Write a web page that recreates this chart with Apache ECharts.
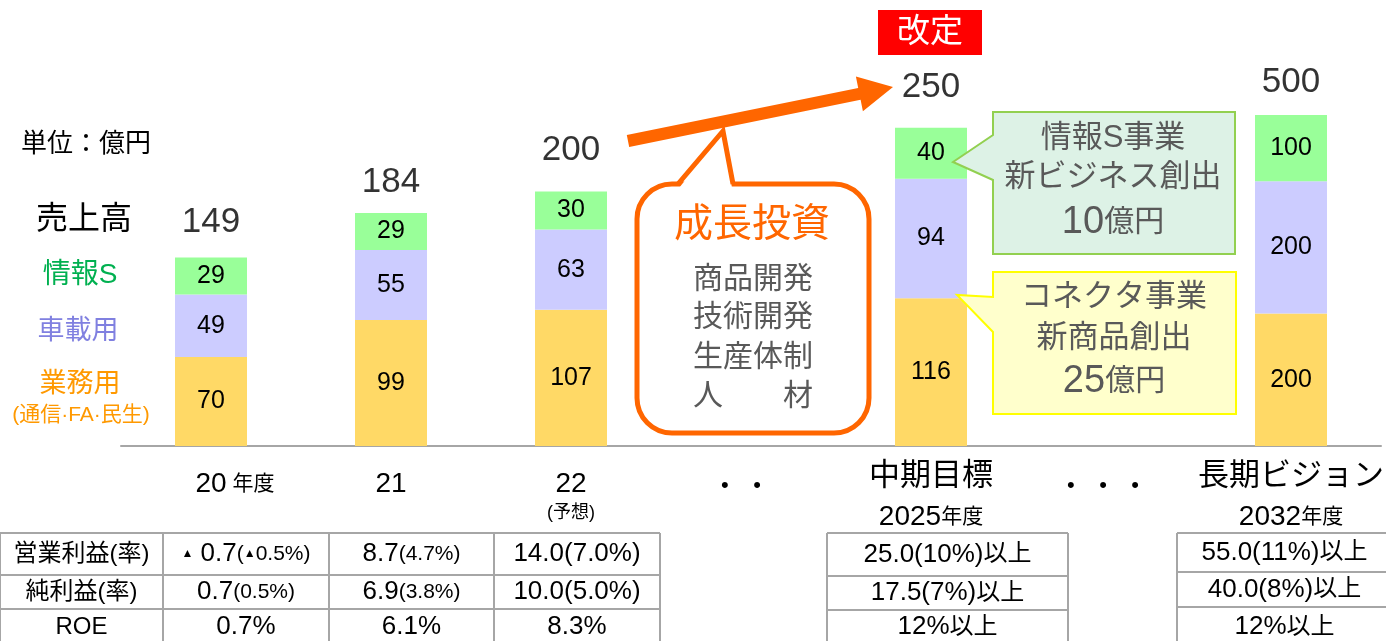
<!DOCTYPE html>
<html>
<head>
<meta charset="utf-8">
<script src="https://cdn.jsdelivr.net/npm/echarts@6.0.0/dist/echarts.min.js"></script>
<style>
html, body { margin: 0; padding: 0; background: #fff; }
#chart { width: 1386px; height: 641px; }
</style>
</head>
<body>
<div id="chart"></div>
<script>
// 売上高 (億円)
const categories = ['20', '21', '22', '・・', '中期目標', '・・・', '長期ビジョン'];
const categoryNotes = ['年度', '', '(予想)', '', '2025年度', '', '2032年度'];
const gyomuSales = [70, 99, 107, '-', 116, '-', '-'];
const shasaiSales = [49, 55, 63, '-', 94, '-', '-'];
const johoSales = [29, 29, 30, '-', 40, '-', '-'];
const totalSales = [149, 184, 200, '-', 250, '-', '-'];
// 長期ビジョン (2032年度) is drawn on its own scale in the original
const visionGyomu = ['-', '-', '-', '-', '-', '-', 200];
const visionShasai = ['-', '-', '-', '-', '-', '-', 200];
const visionJoho = ['-', '-', '-', '-', '-', '-', 100];
const visionTotal = ['-', '-', '-', '-', '-', '-', 500];

// 利益テーブル
const tableRowNames = ['営業利益(率)', '純利益(率)', 'ROE'];
const fy20Values = ['▲ 0.7(▲0.5%)', '0.7(0.5%)', '0.7%'];
const fy21Values = ['8.7(4.7%)', '6.9(3.8%)', '6.1%'];
const fy22Values = ['14.0(7.0%)', '10.0(5.0%)', '8.3%'];
const fy25Targets = ['25.0(10%)以上', '17.5(7%)以上', '12%以上'];
const fy32Targets = ['55.0(11%)以上', '40.0(8%)以上', '12%以上'];

const FONT = "'Liberation Sans', 'Noto Sans CJK JP', sans-serif";
const GREEN = '#99FF99', LAVENDER = '#CCCCFF', YELLOW = '#FFD966';
const ORANGE = '#FF6600', GRAY_TEXT = '#595959', LINE = '#A6A6A6';
// gap between bar top and total label, per category (px)
const totalLabelGap = [16, 11, 23, 0, 22, 0, 15];

const chart = echarts.init(document.getElementById('chart'));

function txt(text, x, y, size, color, align) {
  return {
    type: 'text', z: 100,
    style: {
      text: text, x: x, y: y, fill: color,
      font: size + 'px ' + FONT,
      align: align || 'center', textAlign: align || 'center',
      verticalAlign: 'middle', textVerticalAlign: 'middle'
    }
  };
}

function richTxt(text, x, y, rich) {
  return {
    type: 'text', z: 100,
    style: {
      text: text, x: x, y: y, rich: rich,
      align: 'center', textAlign: 'center',
      verticalAlign: 'middle', textVerticalAlign: 'middle'
    }
  };
}

function line(x1, y1, x2, y2) {
  return { type: 'line', z: 100, shape: { x1, y1, x2, y2 }, style: { stroke: LINE, lineWidth: 2 } };
}

// table cell -> rich text (small brackets for actual years)
function cellRich(str, smallParen) {
  const runs = [];
  let inParen = false;
  for (const ch of str) {
    if (ch === '(') inParen = true;
    let st = ch === '▲' ? 'tri' : (ch === '以' || ch === '上') ? 'jp' : (inParen && smallParen) ? 'sm' : 'n';
    if (runs.length && runs[runs.length - 1].st === st) runs[runs.length - 1].t += ch;
    else runs.push({ st: st, t: ch });
    if (ch === ')') inParen = false;
  }
  return runs.map(r => '{' + r.st + '|' + r.t + '}').join('');
}
const cellStyles = {
  n: { fontSize: 26, fontFamily: FONT, fill: '#000' },
  sm: { fontSize: 21, fontFamily: FONT, fill: '#000' },
  tri: { fontSize: 12, fontFamily: FONT, fill: '#000' },
  jp: { fontSize: 24, fontFamily: FONT, fill: '#000' },
  lb: { fontSize: 24, fontFamily: FONT, fill: '#000' }
};

const graphics = [];

// left labels
graphics.push(txt('単位：億円', 21, 145, 26, '#000', 'left'));
graphics.push(txt('売上高', 84, 220, 32, '#000'));
graphics.push(txt('情報S', 80, 275, 28, '#00B050'));
graphics.push(txt('車載用', 78, 332, 27, '#8080E0'));
graphics.push(txt('業務用', 80, 385, 27, '#FF9900'));
graphics.push(txt('(通信·FA·民生)', 81, 415, 21, '#FF9900'));

// 改定 badge
graphics.push({ type: 'rect', z: 100, shape: { x: 878, y: 10, width: 104, height: 45 }, style: { fill: '#FF0000' } });
graphics.push(txt('改定', 930, 33, 33, '#fff'));

// growth arrow
graphics.push({
  type: 'polygon', z: 100,
  shape: { points: [[626.8, 135.1], [858.2, 88.0], [855.9, 76.5], [893, 87], [862.9, 111.2], [860.6, 99.7], [629.2, 146.9]] },
  style: { fill: ORANGE }
});

// 成長投資 callout: rounded box + tail
graphics.push({
  type: 'rect', z: 100,
  shape: { x: 637, y: 184, width: 232, height: 249, r: 35 },
  style: { fill: '#fff', stroke: ORANGE, lineWidth: 5 }
});
graphics.push({
  type: 'polygon', z: 101,
  shape: { points: [[679, 188], [723, 133], [732, 188]] },
  style: { fill: '#fff' }
});
graphics.push({
  type: 'polyline', z: 102,
  shape: { points: [[678, 184], [723, 131], [733, 184]] },
  style: { stroke: ORANGE, lineWidth: 5, fill: null, lineJoin: 'miter' }
});
graphics.push(txt('成長投資', 752, 225, 39, ORANGE));
graphics.push(txt('商品開発', 753, 280, 30, GRAY_TEXT));
graphics.push(txt('技術開発', 753, 318, 30, GRAY_TEXT));
graphics.push(txt('生産体制', 753, 358, 30, GRAY_TEXT));
graphics.push(txt('人　　材', 753, 397, 30, GRAY_TEXT));

// 情報S事業 callout
graphics.push({
  type: 'polygon', z: 100,
  shape: { points: [[993, 112], [1235, 112], [1235, 254], [993, 254], [993, 180], [953, 162], [993, 135]] },
  style: { fill: '#DDF2E6', stroke: '#92D050', lineWidth: 2 }
});
graphics.push(txt('情報S事業', 1113, 138, 31, GRAY_TEXT));
graphics.push(txt('新ビジネス創出', 1113, 177, 31, GRAY_TEXT));
graphics.push(richTxt('{b|10}{s|億円}', 1113, 223, {
  b: { fontSize: 38, fontFamily: FONT, fill: GRAY_TEXT },
  s: { fontSize: 30, fontFamily: FONT, fill: GRAY_TEXT }
}));

// コネクタ事業 callout
graphics.push({
  type: 'polygon', z: 100,
  shape: { points: [[993, 272], [1236, 272], [1236, 414], [993, 414], [993, 332], [957, 295], [993, 297]] },
  style: { fill: '#FFFFCC', stroke: '#FFFF00', lineWidth: 2 }
});
graphics.push(txt('コネクタ事業', 1114, 297, 31, GRAY_TEXT));
graphics.push(txt('新商品創出', 1114, 338, 31, GRAY_TEXT));
graphics.push(richTxt('{b|25}{s|億円}', 1114, 382, {
  b: { fontSize: 38, fontFamily: FONT, fill: GRAY_TEXT },
  s: { fontSize: 30, fontFamily: FONT, fill: GRAY_TEXT }
}));

// profit tables
function addTable(colEdges, rowEdges, columns, smallFlags) {
  colEdges.forEach(x => graphics.push(line(x, rowEdges[0], x, rowEdges[rowEdges.length - 1])));
  rowEdges.forEach(y => graphics.push(line(colEdges[0], y, colEdges[colEdges.length - 1], y)));
  columns.forEach((col, c) => {
    const cx = (colEdges[c] + colEdges[c + 1]) / 2;
    col.forEach((v, r) => {
      const cy = r < 2 ? (rowEdges[r] + rowEdges[r + 1]) / 2 : 627;
      const text = smallFlags[c] === 'label' ? '{lb|' + v + '}' : cellRich(v, smallFlags[c]);
      graphics.push(richTxt(text, cx, cy, cellStyles));
    });
  });
}
addTable([0, 163, 329, 494, 660], [533, 575, 609, 650],
  [tableRowNames, fy20Values, fy21Values, fy22Values], ['label', true, true, false]);
addTable([827, 1068], [533, 576, 610, 650], [fy25Targets], [false]);
addTable([1177, 1392], [533, 572, 607, 650], [fy32Targets], [false]);

// category axis labels
function categoryLabel(value, index) {
  const note = categoryNotes[index];
  if (value.indexOf('・') === 0) {
    const dots = value.split('').map(() => '•').join('    ');
    return '{' + (value.length === 2 ? 'dot2' : 'dot3') + '|' + dots + '}';
  }
  if (/^\d+$/.test(value)) {
    if (note === '年度') return '{pad|}{num|' + value + '}{unit| ' + note + '}';
    if (note) return '{num|' + value + '}\n{note|' + note + '}';
    return '{num|' + value + '}';
  }
  const m = note.match(/^(\d+)(.*)$/);
  return '{title|' + value + '}\n{yr|' + m[1] + '}{yrUnit|' + m[2] + '}';
}

const barLabel = { show: true, position: 'inside', fontSize: 25, color: '#000', fontFamily: FONT };
function barSeries(name, data, color, axis, stack) {
  return {
    name: name, type: 'bar', data: data, stack: stack, yAxisIndex: axis,
    barWidth: 72, barGap: '-100%', itemStyle: { color: color }, label: barLabel, silent: true
  };
}
function totalSeries(data, axis) {
  return {
    type: 'scatter', yAxisIndex: axis, symbolSize: 1, silent: true,
    data: data.map((v, i) => v === '-' ? v : { value: v, label: { distance: totalLabelGap[i] } }),
    itemStyle: { color: 'rgba(0,0,0,0)' },
    label: { show: true, position: 'top', fontSize: 35, color: '#000', fontFamily: FONT, formatter: '{c}' }
  };
}

chart.setOption({
  animation: false,
  backgroundColor: '#fff',
  textStyle: { fontFamily: FONT },
  grid: { left: 121, width: 1260, top: 115, height: 331, containLabel: false, outerBoundsMode: 'none' },
  xAxis: {
    type: 'category', data: categories,
    axisTick: { show: false },
    axisLine: { lineStyle: { color: LINE, width: 2 } },
    axisLabel: {
      interval: 0, margin: 18, color: '#000', formatter: categoryLabel,
      rich: {
        num: { fontSize: 28, lineHeight: 40, fontFamily: FONT, color: '#000' },
        unit: { fontSize: 21, lineHeight: 40, fontFamily: FONT, color: '#000' },
        pad: { width: 48, lineHeight: 40 },
        note: { fontSize: 18, lineHeight: 18, fontFamily: FONT, color: '#000' },
        dot2: { fontSize: 22, lineHeight: 44, fontFamily: FONT, color: '#000', padding: [0, 20, 0, 0] },
        dot3: { fontSize: 22, lineHeight: 44, fontFamily: FONT, color: '#000', padding: [0, 16, 0, 0] },
        title: { fontSize: 31, lineHeight: 24, fontFamily: FONT, color: '#000' },
        yr: { fontSize: 28, lineHeight: 58, fontFamily: FONT, color: '#000' },
        yrUnit: { fontSize: 21, lineHeight: 58, fontFamily: FONT, color: '#000' }
      }
    }
  },
  yAxis: [
    { type: 'value', min: 0, max: 260, show: false },
    { type: 'value', min: 0, max: 500, show: false }
  ],
  series: [
    barSeries('業務用', gyomuSales, YELLOW, 0, 'sales'),
    barSeries('車載用', shasaiSales, LAVENDER, 0, 'sales'),
    barSeries('情報S', johoSales, GREEN, 0, 'sales'),
    barSeries('業務用', visionGyomu, YELLOW, 1, 'vision'),
    barSeries('車載用', visionShasai, LAVENDER, 1, 'vision'),
    barSeries('情報S', visionJoho, GREEN, 1, 'vision'),
    totalSeries(totalSales, 0),
    totalSeries(visionTotal, 1)
  ],
  graphic: { elements: graphics }
});
</script>
</body>
</html>
